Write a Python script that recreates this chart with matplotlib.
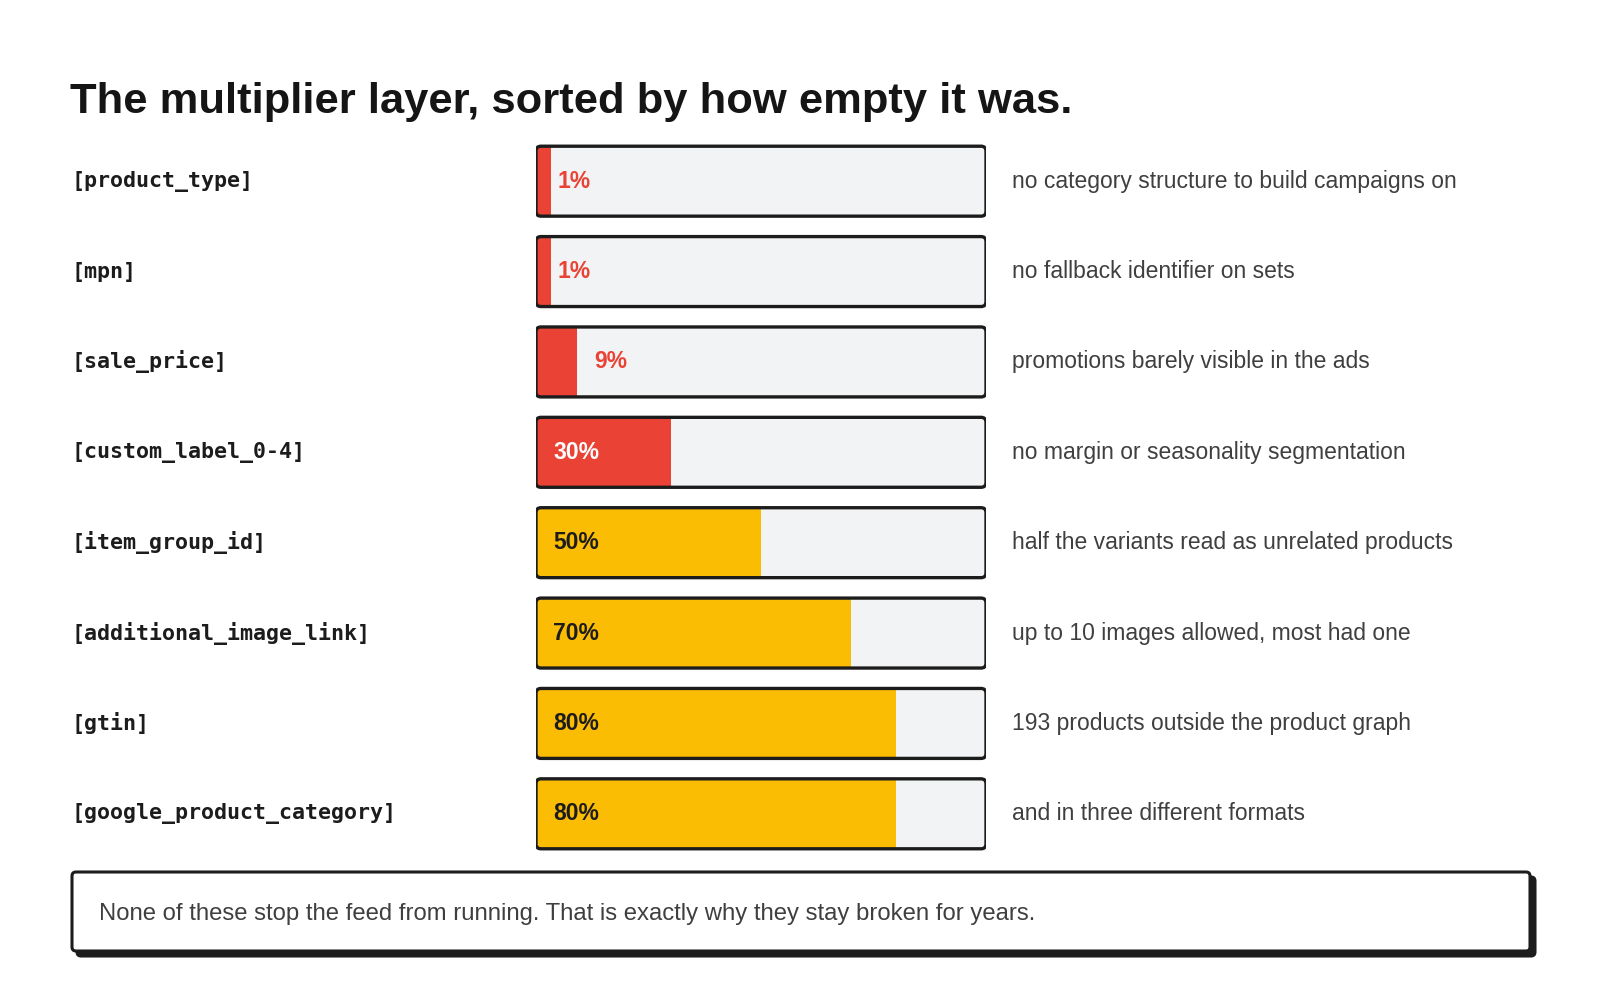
import matplotlib
matplotlib.use("Agg")
import matplotlib.pyplot as plt
from matplotlib.patches import FancyBboxPatch
from matplotlib.transforms import blended_transform_factory

# Données
fields = ["[product_type]", "[mpn]", "[sale_price]", "[custom_label_0-4]",
          "[item_group_id]", "[additional_image_link]", "[gtin]",
          "[google_product_category]"]
filled_pct = [1, 1, 9, 30, 50, 70, 80, 80]
notes = ["no category structure to build campaigns on",
         "no fallback identifier on sets",
         "promotions barely visible in the ads",
         "no margin or seasonality segmentation",
         "half the variants read as unrelated products",
         "up to 10 images allowed, most had one",
         "193 products outside the product graph",
         "and in three different formats"]
title = "The multiplier layer, sorted by how empty it was."
footnote = "None of these stop the feed from running. That is exactly why they stay broken for years."

RED = "#EA4335"
YELLOW = "#FBBC04"
TRACK = "#F1F3F4"
INK = "#1C1C1C"
GREY = "#3F3F3F"
SANS = ["Liberation Sans", "DejaVu Sans"]
MONO = ["DejaVu Sans Mono"]

W, H = 1600, 1000
fig = plt.figure(figsize=(16, 10), dpi=100)
fig.patch.set_facecolor("white")

# Calque en pixels pour le titre et l'encadré
bg = fig.add_axes([0, 0, 1, 1])
bg.set_xlim(0, W)
bg.set_ylim(H, 0)
bg.axis("off")

bg.text(70, 113, title, fontsize=31.3, fontweight="bold", family=SANS,
        color="#151515", va="baseline", ha="left")

# Encadré du bas avec ombre
shadow = FancyBboxPatch((77, 877), 1458, 79, boxstyle="round,pad=0,rounding_size=4",
                        facecolor=INK, edgecolor=INK, linewidth=2.2)
box = FancyBboxPatch((72, 872), 1458, 79, boxstyle="round,pad=0,rounding_size=4",
                     facecolor="white", edgecolor=INK, linewidth=2.2)
bg.add_patch(shadow)
bg.add_patch(box)
bg.text(99, 914, footnote, fontsize=17.2, family=SANS, color=GREY,
        va="center", ha="left")

# Axe des barres
n = len(fields)
ax = fig.add_axes([536 / W, 1 - 859 / H, 450 / W, 723 / H])
ax.set_xlim(0, 100)
ax.set_ylim(n - 0.5, -0.5)
ax.axis("off")

bar_h = 0.774
# rayon des coins ~5 px
rx = 1.1
aspect = (5 / 90.4) / rx

left_tr = blended_transform_factory(fig.transFigure, ax.transData)

for i, (name, v, note) in enumerate(zip(fields, filled_pct, notes)):
    color = RED if v < 40 else YELLOW
    track = FancyBboxPatch((0, i - bar_h / 2), 100, bar_h,
                           boxstyle=f"round,pad=0,rounding_size={rx}",
                           mutation_aspect=aspect, facecolor=TRACK,
                           edgecolor="none", zorder=1)
    ax.add_patch(track)
    # largeur minimale visible pour les très petites valeurs
    bars = ax.barh(i, max(v, 3.4), height=bar_h, left=0, color=color,
                   edgecolor="none", zorder=2)
    bars[0].set_clip_path(track)
    border = FancyBboxPatch((0, i - bar_h / 2), 100, bar_h,
                            boxstyle=f"round,pad=0,rounding_size={rx}",
                            mutation_aspect=aspect, facecolor="none",
                            edgecolor=INK, linewidth=2.4, zorder=3)
    ax.add_patch(border)

    if v < 15:
        ax.annotate(f"{v}%", xy=(v, i), xytext=(12.5, 0), textcoords="offset points",
                    fontsize=16.5, fontweight="bold", family=SANS, color=RED,
                    va="center", ha="left", zorder=4)
    else:
        txt_color = "white" if color == RED else INK
        ax.annotate(f"{v}%", xy=(0, i), xytext=(12.2, 0), textcoords="offset points",
                    fontsize=16.5, fontweight="bold", family=SANS, color=txt_color,
                    va="center", ha="left", zorder=4)

    ax.text(72 / W, i, name, transform=left_tr, fontsize=15.6, fontweight="bold",
            family=MONO, color=INK, va="center", ha="left")
    ax.text(1012 / W, i, note, transform=left_tr, fontsize=16.5, family=SANS,
            color=GREY, va="center", ha="left")

fig.savefig("out.png", dpi=100, facecolor="white")
